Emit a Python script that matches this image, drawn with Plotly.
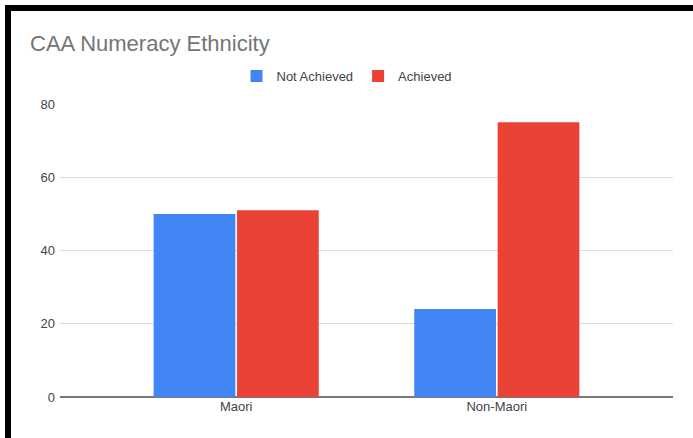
import plotly.graph_objects as go

categories = ["Maori", "Non-Maori"]
not_achieved = [50, 24]
achieved = [51, 75]
y_ticks = [0, 20, 40, 60, 80]

W, H = 693, 438
L, R, T, B = 60, 20, 104, 41
pw, ph = W - L - R, H - T - B

def px_x(px):
    return (px - L) / pw

def px_y(py):
    return (H - B - py) / ph

fig = go.Figure()
fig.add_trace(go.Bar(name="Not Achieved", x=categories, y=not_achieved,
                     marker=dict(color="#4285F4", line=dict(width=0))))
fig.add_trace(go.Bar(name="Achieved", x=categories, y=achieved,
                     marker=dict(color="#EA4335", line=dict(width=0))))

font = "Arial, 'Liberation Sans', sans-serif"
fig.update_layout(
    width=W, height=H,
    margin=dict(l=L, r=R, t=T, b=B, pad=0),
    paper_bgcolor="white", plot_bgcolor="white",
    barmode="group", bargap=0.36, bargroupgap=0.02,
    font=dict(family=font, color="#444444", size=13),
    title=dict(text="CAA Numeracy Ethnicity", x=30 / W, xref="container",
               xanchor="left", y=1 - 43 / H, yref="container",
               yanchor="middle",
               font=dict(family=font, size=22, color="#757575")),
    legend=dict(orientation="h", x=px_x(347), xanchor="center",
                y=px_y(76), yanchor="middle",
                font=dict(family=font, size=13, color="#444444"),
                bgcolor="rgba(0,0,0,0)"),
    xaxis=dict(range=[-0.676, 1.676], showgrid=False, showline=False,
               ticks="", tickfont=dict(size=13, color="#444444"),
               zeroline=False),
    yaxis=dict(range=[0, 80], tickvals=y_ticks, showgrid=True,
               gridcolor="#dcdcdc", gridwidth=1, zeroline=True,
               zerolinecolor="#777777", zerolinewidth=2, showline=False,
               ticks="", tickfont=dict(size=13, color="#444444"),
               ticklabelstandoff=4),
    shapes=[
        dict(type="rect", xref="paper", yref="paper",
             x0=px_x(5), x1=px_x(11), y0=px_y(438), y1=px_y(5),
             fillcolor="black", line=dict(width=0), layer="above"),
        dict(type="rect", xref="paper", yref="paper",
             x0=px_x(5), x1=px_x(693), y0=px_y(11), y1=px_y(5),
             fillcolor="black", line=dict(width=0), layer="above"),
    ],
)
fig.write_html("out.html")
